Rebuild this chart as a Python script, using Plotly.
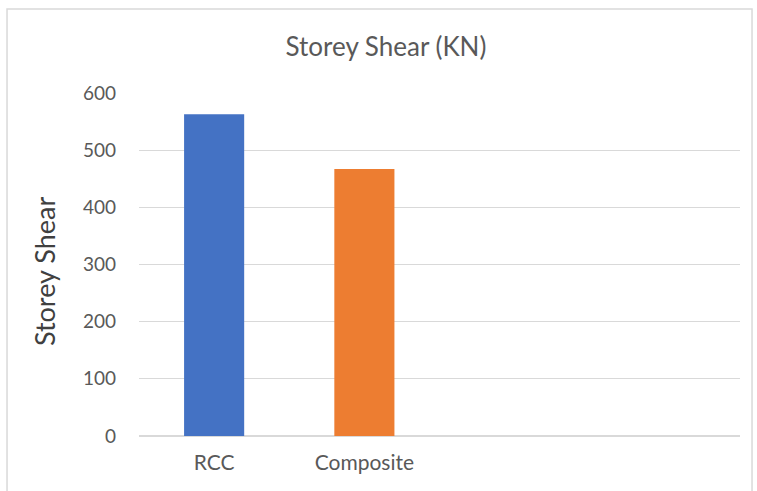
import plotly.graph_objects as go

# data
categories = ["RCC", "Composite", " ", "  "]
shear = [563, 467, None, None]
bar_colors = ["#4472C4", "#ED7D31", "#4472C4", "#4472C4"]

fig = go.Figure()
fig.add_trace(go.Bar(
    x=categories, y=shear,
    marker=dict(color=bar_colors, line=dict(width=0)),
    hoverinfo="x+y",
))

font = "Lato, 'Open Sans', sans-serif"
fig.update_layout(
    width=757, height=491,
    paper_bgcolor="white", plot_bgcolor="white",
    margin=dict(l=139, r=17, t=93, b=55),
    bargap=0.6,
    showlegend=False,
    font=dict(family=font, color="#595959", size=19),
    title=dict(text="Storey Shear (KN)", x=386 / 757, xanchor="center",
               y=1 - 47 / 491, yanchor="middle",
               font=dict(size=26, color="#595959")),
    xaxis=dict(showgrid=False, showline=False, ticks="", ticklabelstandoff=12,
               tickfont=dict(size=21, color="#595959"), fixedrange=True),
    yaxis=dict(range=[0, 600], dtick=100, showgrid=True, gridcolor="#d9d9d9",
               gridwidth=1, zeroline=True, zerolinecolor="#d9d9d9", zerolinewidth=2,
               ticks="", ticklabelstandoff=22,
               tickfont=dict(size=19, color="#595959"),
               fixedrange=True),
    # axis title as an annotation so it can sit where the reference puts it
    annotations=[dict(text="Storey Shear", textangle=-90, showarrow=False,
                      xref="paper", yref="paper", x=-0.158, y=0.478,
                      xanchor="center", yanchor="middle",
                      font=dict(size=27, color="#404040"))],
    shapes=[dict(type="rect", xref="paper", yref="paper",
                 x0=-0.2196, x1=1.02, y0=-0.25, y1=1.245,
                 line=dict(color="#d9d9d9", width=1.5), layer="below")],
)

# drop the page's default body margin so the chart sits at the window corner
fig.write_html("out.html", config={"displayModeBar": False},
               post_script="document.body.style.margin='0';")
